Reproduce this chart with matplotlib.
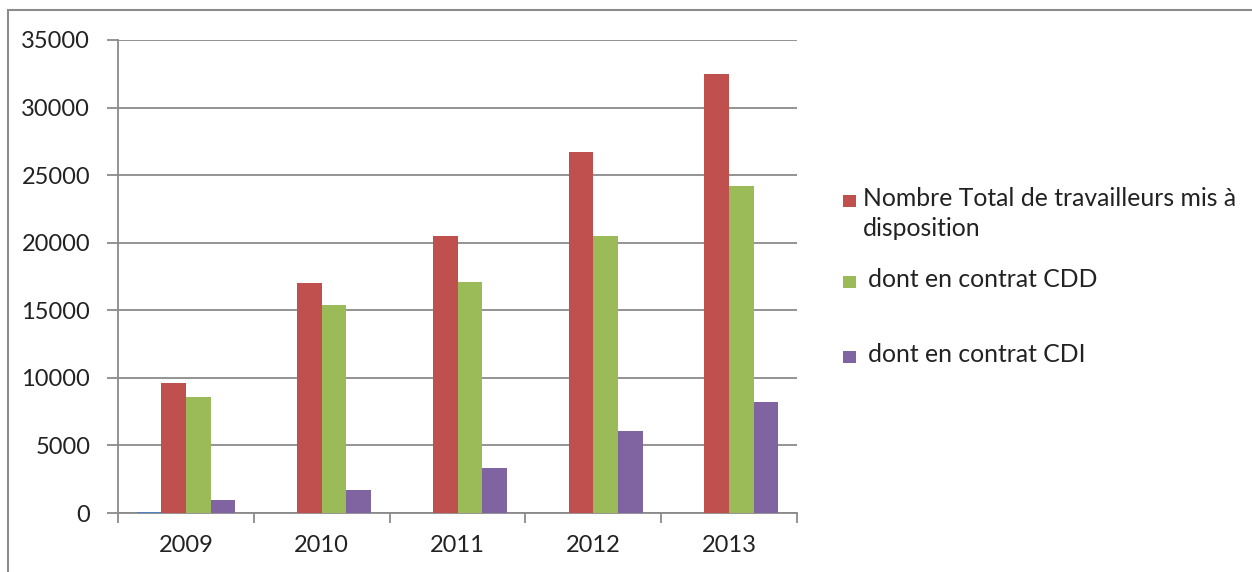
import matplotlib
matplotlib.use("Agg")
import matplotlib.pyplot as plt
from matplotlib.patches import Rectangle
import numpy as np

years = ["2009", "2010", "2011", "2012", "2013"]
serie_annee = [100, 0, 0, 0, 0]
total = [9600, 17000, 20500, 26700, 32500]
cdd = [8600, 15400, 17100, 20500, 24200]
cdi = [950, 1700, 3300, 6100, 8200]
labels = ["Nombre Total de travailleurs mis à\ndisposition",
          "dont en contrat CDD",
          "dont en contrat CDI"]
yticks = [0, 5000, 10000, 15000, 20000, 25000, 30000, 35000]

plt.rcParams['font.family'] = ['Lato', 'DejaVu Sans']
fig = plt.figure(figsize=(12.52, 5.72), dpi=100)
W, H = 1252, 572

# outer chart border
fig.patches.append(Rectangle((8 / W, -0.1), 1.2, 1 - 10 / H + 0.1, transform=fig.transFigure,
                             fill=False, edgecolor="#8c8c8c", linewidth=1.5))

ax = fig.add_axes([118 / W, 1 - 513 / H, (797 - 118) / W, (513 - 40) / H])
x = np.arange(len(years))
bw = 1 / 5.5
series = [serie_annee, total, cdd, cdi]
colors = ["#4F81BD", "#C0504D", "#9BBB59", "#8064A2"]
for i, (vals, c) in enumerate(zip(series, colors)):
    ax.bar(x + (i - 1.5) * bw, vals, width=bw, color=c, zorder=3, linewidth=0)

ax.set_xlim(-0.5, len(years) - 0.5)
ax.set_ylim(0, 35000)
ax.set_yticks(yticks)
ax.set_yticklabels([str(v) for v in yticks], fontsize=17, color="#222222")
ax.yaxis.grid(True, color="#8a8a8a", linewidth=1.3, zorder=0)
ax.set_xticks(np.arange(-0.5, len(years), 1.0))
ax.set_xticklabels([])
ax.set_xticks(x, minor=True)
ax.set_xticklabels(years, minor=True, fontsize=17, color="#222222")
ax.tick_params(axis="x", which="minor", length=0, pad=16)
ax.tick_params(axis="x", which="major", length=7, color="#8a8a8a", width=1.3)
ax.tick_params(axis="y", length=8, color="#8a8a8a", width=1.3, pad=12)
for s in ["top", "right"]:
    ax.spines[s].set_visible(False)
for s in ["left", "bottom"]:
    ax.spines[s].set_color("#8a8a8a")
    ax.spines[s].set_linewidth(1.3)

# legend
leg_y = [200.5, 281.5, 357]
leg_x = [863, 868, 868]
for lab, c, yy, xx in zip(labels, colors[1:], leg_y, leg_x):
    fig.patches.append(Rectangle((843 / W, 1 - (yy + 6) / H), 13 / W, 12 / H,
                                 transform=fig.transFigure, facecolor=c, edgecolor="none"))
    fig.text(xx / W, 1 - (yy - 14) / H, lab, fontsize=17.8, va="top", ha="left",
             color="#222222", linespacing=1.42)

fig.savefig("out.png", dpi=100)
